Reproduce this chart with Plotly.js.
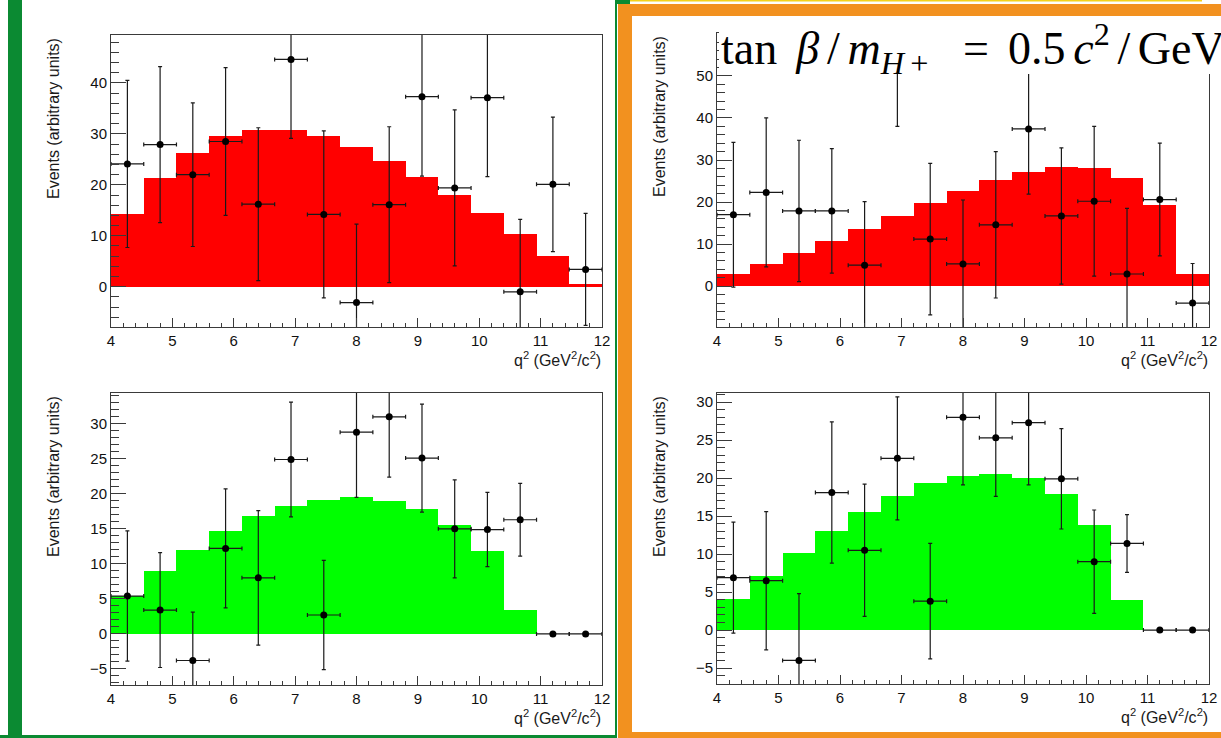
<!DOCTYPE html>
<html>
<head>
<meta charset="utf-8">
<script src="https://cdn.plot.ly/plotly-3.0.1.min.js"></script>
<style>
html,body{margin:0;padding:0;background:#fff;overflow:hidden;}
#chart{width:1221px;height:738px;}
</style>
</head>
<body>
<div id="chart"></div>
<script>
// ---- data ----
const binCenters = [4.267, 4.8, 5.333, 5.867, 6.4, 6.933, 7.467, 8.0, 8.533, 9.067, 9.6, 10.133, 10.667, 11.2, 11.733];
const binWidth = 0.5333;

// top-left (red model, data points)
const tlModel = [14.2, 21.3, 26.3, 29.5, 30.7, 30.7, 29.6, 27.5, 24.7, 21.6, 18.1, 14.4, 10.3, 6.0, 0.5];
const tlData  = [24.1, 27.9, 22.0, 28.5, 16.2, 44.6, 14.2, -3.1, 16.1, 37.3, 19.4, 37.1, -1.0, 20.1, 3.4];
const tlErr   = [16.4, 15.3, 14.1, 14.5, 15.0, 15.5, 16.4, 15.4, 15.3, 15.6, 15.3, 15.5, 14.2, 13.2, 11.0];

// bottom-left (green model, data points)
const blModel = [5.4, 9.0, 12.0, 14.7, 16.8, 18.3, 19.1, 19.5, 19.0, 17.9, 15.6, 11.8, 3.4, 0, 0];
const blData  = [5.4, 3.4, -3.8, 12.2, 8.0, 24.9, 2.7, 28.8, 31.0, 25.1, 15.0, 14.9, 16.3, 0, 0];
const blErr   = [9.3, 8.2, 6.9, 8.5, 9.6, 8.2, 7.8, 9.3, 8.6, 7.7, 7.0, 5.3, 5.2, 0, 0];

// top-right (red model, data points)
const trModel = [2.9, 5.2, 7.9, 10.7, 13.7, 16.7, 19.9, 22.7, 25.2, 27.2, 28.3, 28.1, 25.8, 19.4, 2.9];
const trData  = [17.0, 22.3, 17.9, 17.9, 5.0, 54.0, 11.2, 5.3, 14.6, 37.4, 16.7, 20.2, 2.9, 20.6, -4.0];
const trErr   = [17.2, 17.7, 16.8, 14.8, 15.1, 16.0, 18.0, 15.2, 17.4, 15.5, 16.2, 17.8, 15.6, 13.4, 9.4];

// bottom-right (green model, data points)
const brModel = [4.1, 7.1, 10.2, 13.0, 15.5, 17.7, 19.4, 20.3, 20.6, 20.0, 17.9, 13.8, 4.0, 0, 0];
const brData  = [6.9, 6.5, -4.0, 18.1, 10.5, 22.6, 3.8, 28.0, 25.3, 27.3, 19.9, 9.0, 11.4, 0, 0];
const brErr   = [7.3, 9.1, 8.8, 9.3, 8.7, 8.1, 7.6, 8.9, 7.7, 8.2, 6.6, 6.8, 3.8, 0, 0];

const xTicks = [4, 5, 6, 7, 8, 9, 10, 11, 12];
const yTicksTL = [0, 10, 20, 30, 40];
const yTicksBL = [-5, 0, 5, 10, 15, 20, 25, 30];
const yTicksTR = [0, 10, 20, 30, 40, 50];
const yTicksBR = [-5, 0, 5, 10, 15, 20, 25, 30];

const yTitle = 'Events (arbitrary units)';
const xTitle = 'q<sup>2</sup> (GeV<sup>2</sup>/c<sup>2</sup>)';
// formula, with TeX-like spacing made of unicode spaces
const SP = ' ', SIX = '\u2006', THIN = '\u2009', EN = '\u2002';
const mainTitle = 'tan' + SP + SIX + '<i>β</i>' + SIX + '/' + SIX + '<i>m</i><sub><i>H</i>' + THIN + '+</sub>' +
                  SP + EN + '=' + SP + SIX + '0.5' + SIX + '<i>c</i><sup>2</sup>' + SIX + '/' + SIX + 'GeV';

// ---- layout helpers ----
const W = 1221, H = 738;
const px = v => v / W;
const py = v => 1 - v / H;

const RED = '#ff0000', GREEN = '#00ff00';
const panels = [
  {id: '',  model: tlModel, data: tlData, err: tlErr, color: RED,   x0: 111, x1: 602,  y0: 35,  y1: 327, range: [-7.9, 49.4], ticks: yTicksTL, minor: 2},
  {id: '2', model: blModel, data: blData, err: blErr, color: GREEN, x0: 111, x1: 602,  y0: 393, y1: 685, range: [-7.3, 34.4], ticks: yTicksBL, minor: 1},
  {id: '3', model: trModel, data: trData, err: trErr, color: RED,   x0: 717, x1: 1209, y0: 33,  y1: 327, range: [-9.7, 60.2], ticks: yTicksTR, minor: 2},
  {id: '4', model: brModel, data: brData, err: brErr, color: GREEN, x0: 717, x1: 1209, y0: 393, y1: 684, range: [-7.1, 31.2], ticks: yTicksBR, minor: 1}
];

const tickFont = {family: 'Liberation Sans, Arial, sans-serif', size: 15, color: '#111'};
const titleFont = {family: 'Liberation Sans, Arial, sans-serif', size: 16, color: '#1a1a1a'};
const AX = '#3a3a3a';

const traces = [];
const layout = {
  width: W, height: H,
  margin: {l: 0, r: 0, t: 0, b: 0},
  paper_bgcolor: '#ffffff', plot_bgcolor: '#ffffff',
  showlegend: false,
  barmode: 'overlay', bargap: 0,
  annotations: [], shapes: []
};

panels.forEach(p => {
  const xa = 'x' + p.id, ya = 'y' + p.id;
  traces.push({
    type: 'bar', x: binCenters, y: p.model, width: binWidth,
    xaxis: xa, yaxis: ya,
    marker: {color: p.color, line: {width: 0}},
    hoverinfo: 'skip'
  });
  traces.push({
    type: 'scatter', mode: 'markers', x: binCenters, y: p.data,
    xaxis: xa, yaxis: ya,
    marker: {color: '#000', size: 7},
    error_y: {type: 'data', array: p.err, visible: true, color: '#1a1a1a', thickness: 1.2, width: 2},
    error_x: {type: 'constant', value: binWidth / 2, visible: true, color: '#1a1a1a', thickness: 1.2, width: 2},
    hoverinfo: 'skip'
  });
  layout['xaxis' + p.id] = {
    domain: [px(p.x0), px(p.x1)], anchor: ya, range: [4, 12],
    tickvals: xTicks, ticks: 'inside', ticklen: 9, tickwidth: 1, tickcolor: AX,
    minor: {dtick: 0.2, ticks: 'inside', ticklen: 4.5, tickwidth: 1, tickcolor: AX, showgrid: false},
    showline: true, linecolor: AX, linewidth: 1, mirror: true,
    showgrid: false, zeroline: false, tickfont: tickFont, fixedrange: true
  };
  layout['yaxis' + p.id] = {
    domain: [py(p.y1), py(p.y0)], anchor: xa, range: p.range,
    tickvals: p.ticks, ticks: 'inside', ticklen: 15, tickwidth: 1, tickcolor: AX,
    minor: {dtick: p.minor, ticks: 'inside', ticklen: 7.5, tickwidth: 1, tickcolor: AX, showgrid: false},
    showline: true, linecolor: AX, linewidth: 1, mirror: true,
    showgrid: false, zeroline: false, tickfont: tickFont, fixedrange: true
  };
  // axis titles (ROOT style: y title top-aligned, x title right-aligned)
  layout.annotations.push({
    xref: 'paper', yref: 'paper', x: px(p.x0 - 58), y: py(p.y0 + 84),
    xanchor: 'center', yanchor: 'middle', textangle: -90, showarrow: false,
    text: yTitle, font: titleFont
  });
  layout.annotations.push({
    xref: 'paper', yref: 'paper', x: px(p.x1 + 1), y: py(p.y1 + 32),
    xanchor: 'right', yanchor: 'middle', showarrow: false,
    text: xTitle, font: titleFont
  });
});

// frames around the two halves of the slide
const rect = (x0, y0, x1, y1, color, layer) => ({
  type: 'rect', xref: 'paper', yref: 'paper', layer: layer || 'above',
  x0: px(x0), x1: px(x1), y0: py(y1), y1: py(y0),
  fillcolor: color, line: {width: 0}
});
const DKGREEN = '#0b8a32', ORANGE = '#f2911f', YELLOW = '#f4d21c';
layout.shapes.push(
  rect(719, 16, 1221, 74, '#ffffff'),          // white box behind the formula
  rect(8, 0, 22, 738, DKGREEN),
  rect(615, 0, 617, 738, DKGREEN),
  rect(0, 735, 617, 738, DKGREEN),
  rect(617, 0, 630, 4, DKGREEN),
  rect(630, 0, 1202, 1.5, YELLOW),
  rect(618, 4, 1221, 16, ORANGE),
  rect(618, 4, 632, 738, ORANGE),
  rect(618, 732, 1221, 738, ORANGE)
);

layout.annotations.push({
  xref: 'paper', yref: 'paper', x: px(719), y: py(48),
  xanchor: 'left', yanchor: 'middle', showarrow: false,
  text: mainTitle,
  font: {family: 'Liberation Serif, DejaVu Serif, serif', size: 46, color: '#000'}
});

Plotly.newPlot('chart', traces, layout, {staticPlot: true, displayModeBar: false});
</script>
</body>
</html>
